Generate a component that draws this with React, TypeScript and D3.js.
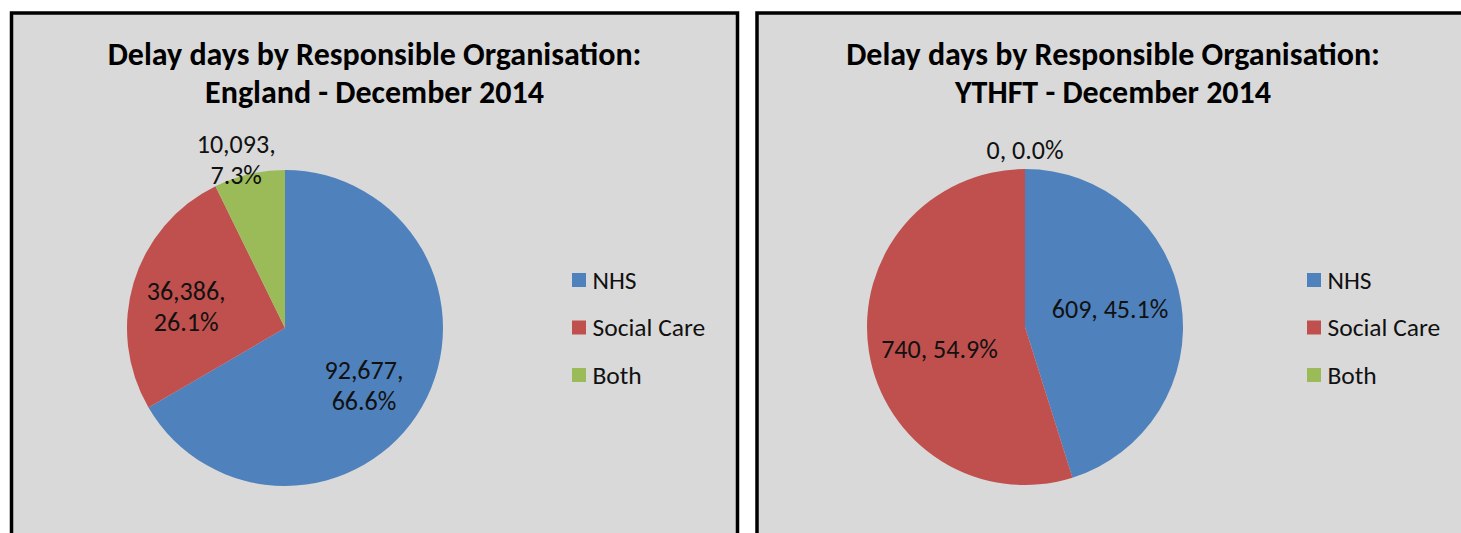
import React from "react";
import * as d3 from "d3";

const categories = ["NHS", "Social Care", "Both"];
const englandValues = [92677, 36386, 10093];
const ythftValues = [609, 740, 0];
const englandTitle = ["Delay days by Responsible Organisation:", "England - December 2014"];
const ythftTitle = ["Delay days by Responsible Organisation:", "YTHFT - December 2014"];

const colors = ["#4f81bd", "#c0504d", "#9bbb59"];
const BG = "#d9d9d9";
const FONT = "Carlito, Lato, 'Open Sans', sans-serif";

type PanelProps = {
  x: number;
  width: number;
  title: string[];
  values: number[];
  cx: number;
  cy: number;
  r: number;
  wrap: boolean;
  labelPlace: { rf: number; shift: number }[];
  legendX: number;
  legendY: number;
};

const fmtNum = d3.format(",");
const fmtPct = d3.format(".1%");

function Panel(p: PanelProps) {
  const total = d3.sum(p.values);
  const pie = d3
    .pie<number>()
    .sort(null)
    .value((d) => d);
  const arcs = pie(p.values);
  const arc = d3.arc<d3.PieArcDatum<number>>().innerRadius(0).outerRadius(p.r);
  const titleCx = p.x + p.width / 2;
  return (
    <g>
      <rect x={p.x} y={13} width={p.width} height={560} fill={BG} stroke="#000" strokeWidth={3.5} />
      {p.title.map((t, i) => (
        <text
          key={i}
          x={titleCx}
          y={64.5 + i * 38}
          textAnchor="middle"
          fontFamily={FONT}
          fontWeight="bold"
          fontSize={32}
          fill="#000"
        >
          {t}
        </text>
      ))}
      <g transform={`translate(${p.cx},${p.cy})`}>
        {arcs.map((a, i) => (
          <path key={i} d={arc(a) || ""} fill={colors[i]} />
        ))}
        {arcs.map((a, i) => {
          const lp = p.labelPlace[i];
          const mid = (a.startAngle + a.endAngle) / 2 + (lp.shift * Math.PI) / 180;
          const rr = p.r * lp.rf;
          const lx = Math.sin(mid) * rr;
          const ly = -Math.cos(mid) * rr;
          const n = fmtNum(a.data);
          const pc = fmtPct(total ? a.data / total : 0);
          const lines = p.wrap ? [n + ",", pc] : [n + ", " + pc];
          const lh = 31;
          const y0 = ly - ((lines.length - 1) * lh) / 2 + 8.5;
          return (
            <text key={"l" + i} textAnchor="middle" fontFamily={FONT} fontSize={26} fill="#111">
              {lines.map((l, j) => (
                <tspan key={j} x={lx} y={y0 + j * lh}>
                  {l}
                </tspan>
              ))}
            </text>
          );
        })}
      </g>
      {categories.map((c, i) => (
        <g key={c} transform={`translate(${p.legendX},${p.legendY + i * 47.5})`}>
          <rect x={0} y={0} width={14} height={14} fill={colors[i]} />
          <text x={20.5} y={15.5} fontFamily={FONT} fontSize={25.5} fill="#111">
            {c}
          </text>
        </g>
      ))}
    </g>
  );
}

export default function App() {
  return (
    <svg
      width={1461}
      height={533}
      style={{ position: "absolute", left: 0, top: 0, background: "#fff" }}
    >
      <Panel
        x={11.5}
        width={726}
        title={englandTitle}
        values={englandValues}
        cx={285}
        cy={328}
        r={158}
        wrap={true}
        labelPlace={[
          { rf: 0.62, shift: 6.4 },
          { rf: 0.64, shift: -4.7 },
          { rf: 1.11, shift: -3.1 },
        ]}
        legendX={572}
        legendY={273}
      />
      <Panel
        x={757}
        width={712}
        title={ythftTitle}
        values={ythftValues}
        cx={1025}
        cy={327}
        r={158}
        wrap={false}
        labelPlace={[
          { rf: 0.55, shift: -3 },
          { rf: 0.56, shift: -6 },
          { rf: 1.12, shift: 0 },
        ]}
        legendX={1307}
        legendY={273}
      />
    </svg>
  );
}
